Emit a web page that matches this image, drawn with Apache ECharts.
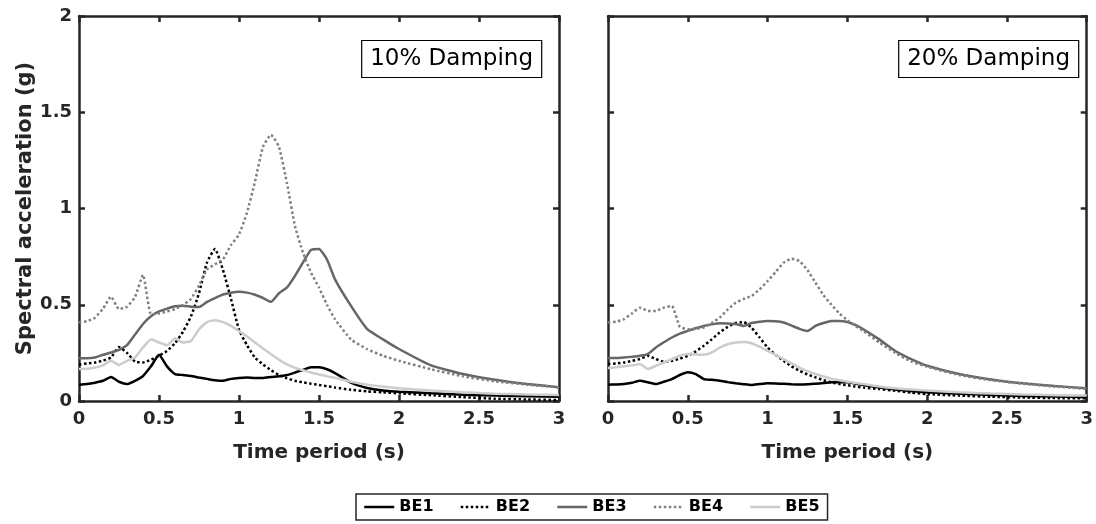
<!DOCTYPE html>
<html>
<head>
<meta charset="utf-8">
<script src="https://cdn.jsdelivr.net/npm/echarts@6/dist/echarts.min.js"></script>
<style>html,body{margin:0;padding:0;background:#fff}#c{width:1096px;height:524px}</style>
</head>
<body>
<div id="c"></div>
<script>
// Time period (s)
const T = [0,0.05,0.1,0.15,0.2,0.25,0.3,0.35,0.4,0.45,0.5,0.55,0.6,0.65,0.7,0.75,0.8,0.85,0.9,0.95,1.0,1.05,1.1,1.15,1.2,1.25,1.3,1.35,1.4,1.45,1.5,1.55,1.6,1.7,1.8,1.9,2.0,2.2,2.4,2.6,2.8,3.0];

// 10% damping
const L_BE1 = [0.085,0.088,0.095,0.105,0.125,0.10,0.088,0.105,0.13,0.18,0.24,0.18,0.14,0.135,0.13,0.122,0.115,0.108,0.105,0.115,0.12,0.122,0.12,0.12,0.125,0.128,0.135,0.148,0.162,0.175,0.175,0.165,0.145,0.095,0.068,0.055,0.048,0.04,0.033,0.028,0.025,0.022];
const L_BE2 = [0.19,0.195,0.20,0.21,0.226,0.28,0.25,0.205,0.20,0.215,0.235,0.26,0.30,0.36,0.44,0.56,0.72,0.79,0.68,0.53,0.37,0.29,0.225,0.19,0.16,0.135,0.118,0.105,0.097,0.09,0.083,0.077,0.07,0.058,0.05,0.045,0.04,0.03,0.02,0.012,0.008,0.005];
const L_BE3 = [0.222,0.222,0.226,0.24,0.252,0.265,0.29,0.345,0.40,0.44,0.465,0.48,0.492,0.495,0.49,0.488,0.515,0.535,0.553,0.562,0.567,0.563,0.552,0.535,0.515,0.56,0.59,0.65,0.72,0.785,0.79,0.735,0.632,0.494,0.375,0.32,0.27,0.185,0.14,0.11,0.088,0.072];
const L_BE4 = [0.408,0.415,0.433,0.48,0.542,0.477,0.49,0.54,0.655,0.45,0.455,0.465,0.477,0.50,0.53,0.60,0.684,0.71,0.736,0.81,0.865,0.978,1.14,1.32,1.383,1.32,1.13,0.908,0.77,0.667,0.589,0.50,0.425,0.32,0.27,0.235,0.209,0.165,0.128,0.102,0.085,0.07];
const L_BE5 = [0.166,0.168,0.174,0.185,0.209,0.187,0.209,0.226,0.278,0.321,0.304,0.29,0.325,0.304,0.312,0.373,0.41,0.42,0.41,0.39,0.363,0.335,0.304,0.273,0.243,0.215,0.19,0.172,0.16,0.148,0.138,0.128,0.12,0.10,0.085,0.075,0.066,0.055,0.045,0.038,0.034,0.031];

// 20% damping
const R_BE1 = [0.085,0.086,0.088,0.095,0.105,0.097,0.088,0.10,0.114,0.135,0.149,0.14,0.114,0.11,0.105,0.098,0.092,0.087,0.083,0.088,0.092,0.091,0.089,0.087,0.086,0.087,0.09,0.093,0.097,0.098,0.097,0.09,0.083,0.07,0.06,0.052,0.045,0.038,0.031,0.026,0.023,0.02];
const R_BE2 = [0.192,0.195,0.20,0.208,0.218,0.235,0.218,0.204,0.209,0.22,0.235,0.258,0.287,0.32,0.356,0.385,0.405,0.41,0.38,0.33,0.278,0.24,0.209,0.18,0.157,0.138,0.123,0.108,0.097,0.088,0.082,0.075,0.07,0.062,0.053,0.044,0.036,0.028,0.022,0.018,0.015,0.014];
const R_BE3 = [0.223,0.223,0.226,0.23,0.235,0.244,0.278,0.305,0.33,0.35,0.364,0.378,0.39,0.398,0.404,0.403,0.40,0.39,0.405,0.412,0.416,0.414,0.408,0.392,0.375,0.364,0.39,0.405,0.415,0.416,0.41,0.395,0.373,0.32,0.26,0.218,0.183,0.14,0.112,0.092,0.078,0.066];
const R_BE4 = [0.408,0.412,0.425,0.455,0.485,0.468,0.468,0.485,0.494,0.385,0.373,0.375,0.382,0.405,0.433,0.475,0.51,0.53,0.546,0.58,0.623,0.67,0.718,0.739,0.727,0.68,0.615,0.55,0.50,0.455,0.42,0.39,0.364,0.304,0.25,0.205,0.178,0.135,0.108,0.09,0.075,0.063];
const R_BE5 = [0.171,0.175,0.18,0.185,0.192,0.166,0.183,0.20,0.218,0.235,0.244,0.242,0.24,0.252,0.278,0.295,0.304,0.307,0.30,0.282,0.26,0.24,0.218,0.195,0.174,0.155,0.14,0.127,0.116,0.108,0.10,0.094,0.088,0.075,0.066,0.06,0.054,0.045,0.039,0.034,0.03,0.028];

const NAMES = ['BE1','BE2','BE3','BE4','BE5'];
const PANEL_TITLES = ['10% Damping','20% Damping'];
const X_NAME = 'Time period (s)';
const Y_NAME = 'Spectral acceleration (g)';

const FONT = '"DejaVu Sans", Verdana, sans-serif';
const AX = '#262626';
const styles = [
  {color:'#000000', type:'solid'},
  {color:'#000000', type:[2.5,2.5]},
  {color:'#666666', type:'solid'},
  {color:'#808080', type:[2.5,2.5]},
  {color:'#cccccc', type:'solid'}
];

const chart = echarts.init(document.getElementById('c'), null, {renderer:'canvas'});

const grids = [
  {left:79, top:16, width:480, height:385},
  {left:608, top:16, width:480, height:385}
];

function xAx(gi, pos, main){
  return {
    type:'value', gridIndex:gi, position:pos, min:0, max:3, interval:0.5,
    name: main ? X_NAME : '', nameLocation:'middle', nameGap:42,
    nameTextStyle:{fontFamily:FONT, fontWeight:'bold', fontSize:20, color:AX},
    axisLine:{show:true, onZero:false, lineStyle:{color:AX, width:2.5}},
    axisTick:{show:true, inside:true, length:6, lineStyle:{color:AX, width:2.5}},
    axisLabel:{show:main, margin:9, fontFamily:FONT, fontWeight:'bold', fontSize:18, color:AX},
    splitLine:{show:false}
  };
}
function yAx(gi, pos, main, labels){
  return {
    type:'value', gridIndex:gi, position:pos, min:0, max:2, interval:0.5,
    name: (main && labels) ? Y_NAME : '', nameLocation:'middle', nameGap:42,
    nameTextStyle:{fontFamily:FONT, fontWeight:'bold', fontSize:21, color:AX},
    axisLine:{show:true, onZero:false, lineStyle:{color:AX, width:2.5}},
    axisTick:{show:true, inside:true, length:6, lineStyle:{color:AX, width:2.5}},
    axisLabel:{show:main && labels, margin:7, fontFamily:FONT, fontWeight:'bold', fontSize:18, color:AX},
    splitLine:{show:false}
  };
}

const xAxes = [xAx(0,'bottom',true), xAx(0,'top',false), xAx(1,'bottom',true), xAx(1,'top',false)];
const yAxes = [yAx(0,'left',true,true), yAx(0,'right',false,false), yAx(1,'left',true,false), yAx(1,'right',false,false)];

const leftData = [L_BE1,L_BE2,L_BE3,L_BE4,L_BE5];
const rightData = [R_BE1,R_BE2,R_BE3,R_BE4,R_BE5];
const series = [];
[leftData, rightData].forEach((set, p) => {
  set.forEach((vals, k) => {
    series.push({
      type:'line', name:NAMES[k], xAxisIndex:p*2, yAxisIndex:p*2,
      data:T.map((t,i)=>[t, vals[i]]),
      showSymbol:false, symbol:'none', smooth:0.15, animation:false,
      lineStyle:{color:styles[k].color, width:2.5, type:styles[k].type},
      itemStyle:{color:styles[k].color},
      z: 2 + k
    });
  });
});

const titles = PANEL_TITLES.map((txt, p) => ({
  text: txt,
  right: p === 0 ? (1096 - 542) : 17,
  top: 40,
  padding:[6,9,6,9],
  borderColor:'#000', borderWidth:1.2, backgroundColor:'#fff',
  textStyle:{fontFamily:FONT, fontWeight:'normal', fontSize:23, color:'#000', lineHeight:26}
}));

chart.setOption({
  animation:false,
  backgroundColor:'#ffffff',
  title: titles,
  grid: grids,
  xAxis: xAxes,
  yAxis: yAxes,
  legend:{
    data:NAMES, left:356, top:494, orient:'horizontal',
    itemWidth:30, itemHeight:14, itemGap:26,
    padding:[5,8,5,7],
    borderColor:AX, borderWidth:1.5,
    itemStyle:{opacity:0},
    lineStyle:{width:2.5},
    textStyle:{fontFamily:FONT, fontWeight:'bold', fontSize:16, color:'#000'},
    selectedMode:false
  },
  series: series
});
</script>
</body>
</html>
